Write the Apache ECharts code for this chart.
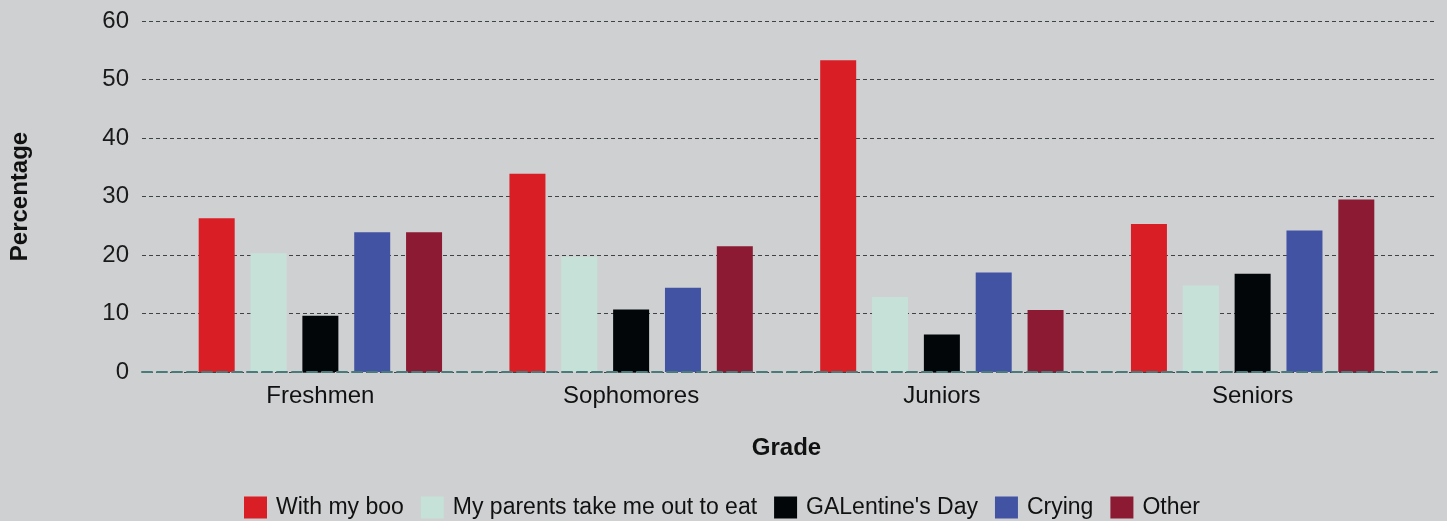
<!DOCTYPE html>
<html>
<head>
<meta charset="utf-8">
<script src="https://cdn.jsdelivr.net/npm/echarts@6/dist/echarts.min.js"></script>
<style>
  html, body { margin: 0; padding: 0; background: #cfd0d2; }
  #chart { width: 1447px; height: 521px; }
</style>
</head>
<body>
<div id="chart"></div>
<script>
const grades = ['Freshmen', 'Sophomores', 'Juniors', 'Seniors'];
const withMyBoo = [26.3, 33.9, 53.3, 25.3];
const parentsTakeMeOut = [20.3, 19.7, 12.8, 14.8];
const galentinesDay = [9.6, 10.7, 6.4, 16.8];
const crying = [23.9, 14.4, 17.0, 24.2];
const other = [23.9, 21.5, 10.6, 29.5];
const yTicks = [0, 10, 20, 30, 40, 50, 60];

const font = 'Arial, "Liberation Sans", sans-serif';
const colors = ['#d91e25', '#c6e2d8', '#020608', '#4353a3', '#8b1a32'];

const chart = echarts.init(document.getElementById('chart'));

function bar(name, data) {
    return {
        name: name,
        type: 'bar',
        xAxisIndex: 1,
        yAxisIndex: 1,
        barWidth: 36,
        barGap: '44%',
        data: data
    };
}

const option = {
    backgroundColor: '#cfd0d2',
    color: colors,
    animation: false,
    textStyle: { fontFamily: font },
    legend: {
        left: 244,
        bottom: 2,
        padding: 0,
        icon: 'rect',
        itemWidth: 23,
        itemHeight: 22,
        itemGap: 17,
        textStyle: { fontSize: 23, color: '#111', fontFamily: font, padding: [0, 0, 0, 4] },
        data: ['With my boo', 'My parents take me out to eat', "GALentine's Day", 'Crying', 'Other']
    },
    grid: [
        { left: 142, right: 10, top: 21, bottom: 149 },
        { left: 165, right: 39, top: 21, bottom: 149 }
    ],
    xAxis: [
        {
            type: 'value',
            gridIndex: 0,
            min: 0,
            max: 1,
            z: 5,
            axisLabel: { show: false },
            axisTick: { show: false },
            splitLine: { show: false },
            axisLine: { show: true, lineStyle: { color: '#4a7b7a', width: 2, type: [10, 5] } }
        },
        {
            type: 'category',
            gridIndex: 1,
            data: grades,
            name: 'Grade',
            nameLocation: 'middle',
            nameGap: 64,
            nameTextStyle: { fontSize: 24, fontWeight: 'bold', color: '#111', fontFamily: font },
            axisLine: { show: false },
            axisTick: { show: false },
            axisLabel: { fontSize: 24, color: '#111', margin: 12, fontFamily: font }
        }
    ],
    yAxis: [
        {
            type: 'value',
            gridIndex: 0,
            min: yTicks[0],
            max: yTicks[yTicks.length - 1],
            interval: 10,
            name: 'Percentage',
            nameLocation: 'middle',
            nameGap: 110,
            nameTextStyle: { fontSize: 24, fontWeight: 'bold', color: '#111', fontFamily: font },
            axisLine: { show: false },
            axisTick: { show: false },
            axisLabel: { fontSize: 24, color: '#1a1a1a', margin: 13, fontFamily: font },
            splitLine: { lineStyle: { color: '#3e4446', width: 1, type: [4, 3] } }
        },
        {
            type: 'value',
            gridIndex: 1,
            min: 0,
            max: 60,
            show: false
        }
    ],
    series: [
        bar('With my boo', withMyBoo),
        bar('My parents take me out to eat', parentsTakeMeOut),
        bar("GALentine's Day", galentinesDay),
        bar('Crying', crying),
        bar('Other', other)
    ]
};

chart.setOption(option);
</script>
</body>
</html>
